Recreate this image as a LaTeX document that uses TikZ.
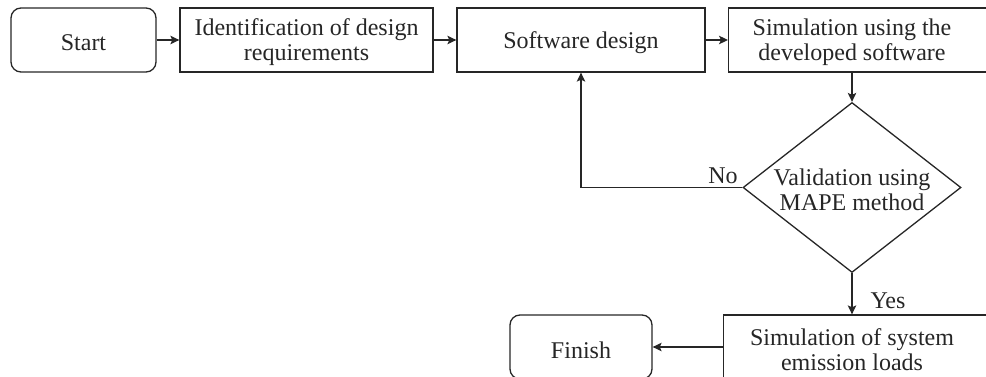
\documentclass[tikz,border=0pt]{standalone}
\usepackage{fontspec}
\setmainfont{Liberation Serif}
\usetikzlibrary{arrows.meta,shapes.geometric}
\begin{document}
\begin{tikzpicture}[x=1pt,y=-1pt,
  every node/.style={font=\fontsize{24}{25}\selectfont, text=black!85},
  box/.style={draw=black!85, line width=1.3pt, minimum height=64pt, inner sep=0pt},
  terminal/.style={box, rounded corners=10pt},
  txt/.style={align=center, inner sep=0pt},
  decision/.style={draw=black!85, line width=1.3pt, diamond, aspect=1.28,
    minimum width=218pt, minimum height=170pt, inner sep=0pt, align=center},
  flow/.style={draw=black!85, line width=1.3pt, -{Stealth[length=9pt,width=8.5pt,inset=2pt]}},
  lbl/.style={inner sep=0pt}]
\useasboundingbox (0,0) rectangle (986,377);
\begin{scope}
\clip (0,0) rectangle (986,377);

% top row
\node[terminal, minimum width=145pt] (start) at (83.5,40) {};
\node[txt] (starttext) at (83.5,42.5) {Start};
\node[box, minimum width=253pt] (ident) at (306.5,40) {};
\node[txt] (identtext) at (306.5,42.5) {Identification of design\\requirements};
\node[box, minimum width=248pt] (soft) at (581,40) {};
\node[txt] (softtext) at (581,42.5) {Software design};
\node[box, minimum width=270pt, anchor=west] (sim) at (728,40) {};
\node[txt] (simtext) at (852,42.5) {Simulation using the\\developed software};

% decision
\node[decision] (valid) at (852,187.5) {};
\node[txt] (validtext) at (852,190) {Validation using\\MAPE method};

% bottom row
\node[box, minimum width=275pt, anchor=west] (emis) at (723,347) {};
\node[txt] (emistext) at (852,350) {Simulation of system\\emission loads};
\node[terminal, minimum width=142pt] (finish) at (581,347) {};
\node[txt] (finishtext) at (581,350) {Finish};

% connectors
\draw[flow] (start) -- (ident);
\draw[flow] (ident) -- (soft);
\draw[flow] (soft) -- (sim);
\draw[flow] (sim.south -| valid.north) -- (valid.north);
\draw[flow] (valid.west) -| (soft.south);
\draw[flow] (valid.south) -- (emis.north -| valid.south);
\draw[flow] (emis.west) -- (finish.east);

% branch labels
\node[lbl] (nolbl) at (723,176) {No};
\node[lbl] (yeslbl) at (888,301) {Yes};
\end{scope}
\end{tikzpicture}
\end{document}
